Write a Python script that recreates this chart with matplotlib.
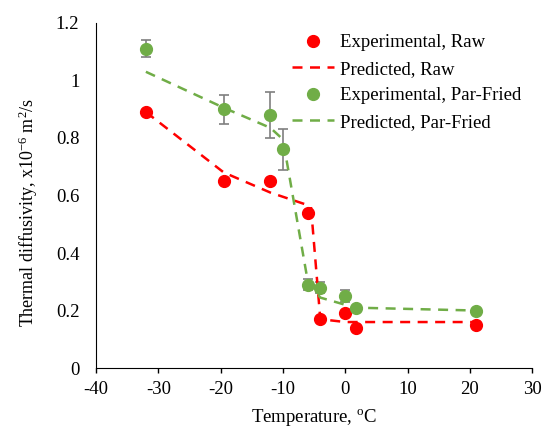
import numpy as np
import matplotlib
matplotlib.use("Agg")
import matplotlib.pyplot as plt

plt.rcParams['font.family'] = ['Liberation Serif', 'DejaVu Serif']
plt.rcParams['mathtext.fontset'] = 'custom'
plt.rcParams['mathtext.rm'] = 'Liberation Serif'
plt.rcParams['mathtext.it'] = 'Liberation Serif:italic'
plt.rcParams['axes.unicode_minus'] = False

# data
temp_raw = [-32, -19.5, -12, -6, -4, 0, 1.7, 21]
exp_raw = [0.89, 0.65, 0.65, 0.54, 0.17, 0.19, 0.14, 0.15]
pred_raw_t = [-32, -19.5, -12, -6.5, -5.5, -4, 0, 1.7, 21]
pred_raw = [0.89, 0.68, 0.61, 0.57, 0.56, 0.17, 0.16, 0.16, 0.16]

temp_pf = [-32, -19.5, -12, -10, -6, -4, 0, 1.7, 21]
exp_pf = [1.11, 0.90, 0.88, 0.76, 0.29, 0.28, 0.25, 0.21, 0.20]
err_pf = [0.03, 0.05, 0.08, 0.07, 0.02, 0.02, 0.02, 0.0, 0.0]
pred_pf = [1.03, 0.905, 0.835, 0.795, 0.30, 0.245, 0.22, 0.21, 0.20]

red = '#FF0000'
green = '#70AD47'

fig = plt.figure(figsize=(5.52, 4.32), dpi=100)
ax = fig.add_axes([0.174, 0.148, 0.79, 0.799])

ax.plot(temp_raw, exp_raw, 'o', color=red, ms=8.5, label='Experimental, Raw', zorder=4)
ax.plot(pred_raw_t, pred_raw, '--', color=red, lw=1.8, dashes=(4, 3), label='Predicted, Raw', zorder=3)
ax.errorbar(temp_pf, exp_pf, yerr=err_pf, fmt='none', ecolor='#7f7f7f', elinewidth=1.2,
            capsize=3.5, capthick=1.2, zorder=2)
ax.plot(temp_pf, exp_pf, 'o', color=green, ms=8.5, label='Experimental, Par-Fried', zorder=4)
ax.plot(temp_pf, pred_pf, '--', color=green, lw=1.8, dashes=(4, 3), label='Predicted, Par-Fried', zorder=3)

ax.set_xlim(-40, 30)
ax.set_ylim(0, 1.2)
ax.set_xticks(np.arange(-40, 31, 10))
ax.set_yticks([0, 0.2, 0.4, 0.6, 0.8, 1.0, 1.2])
ax.set_yticklabels(['0', '0.2', '0.4', '0.6', '0.8', '1', '1.2'])
ax.spines['top'].set_visible(False)
ax.spines['right'].set_visible(False)
ax.tick_params(axis='x', direction='out', length=3.5, width=1, labelsize=13.5, pad=6)
ax.tick_params(axis='y', length=0, labelsize=13.5, pad=12)

ax.set_xlabel('Temperature, $^{\\rm o}$C', fontsize=13.5, labelpad=6)
ax.set_ylabel('Thermal diffusivity, x10$^{-6}$ m$^2$/s', fontsize=13)
ax.yaxis.set_label_coords(-0.128, 0.452)

ax.legend(loc='upper left', bbox_to_anchor=(0.45, 0.967), frameon=False, fontsize=13.5,
          borderaxespad=0, borderpad=0, handlelength=2.2, handletextpad=0.35,
          labelspacing=0.5)

fig.savefig('out.png', dpi=100)
